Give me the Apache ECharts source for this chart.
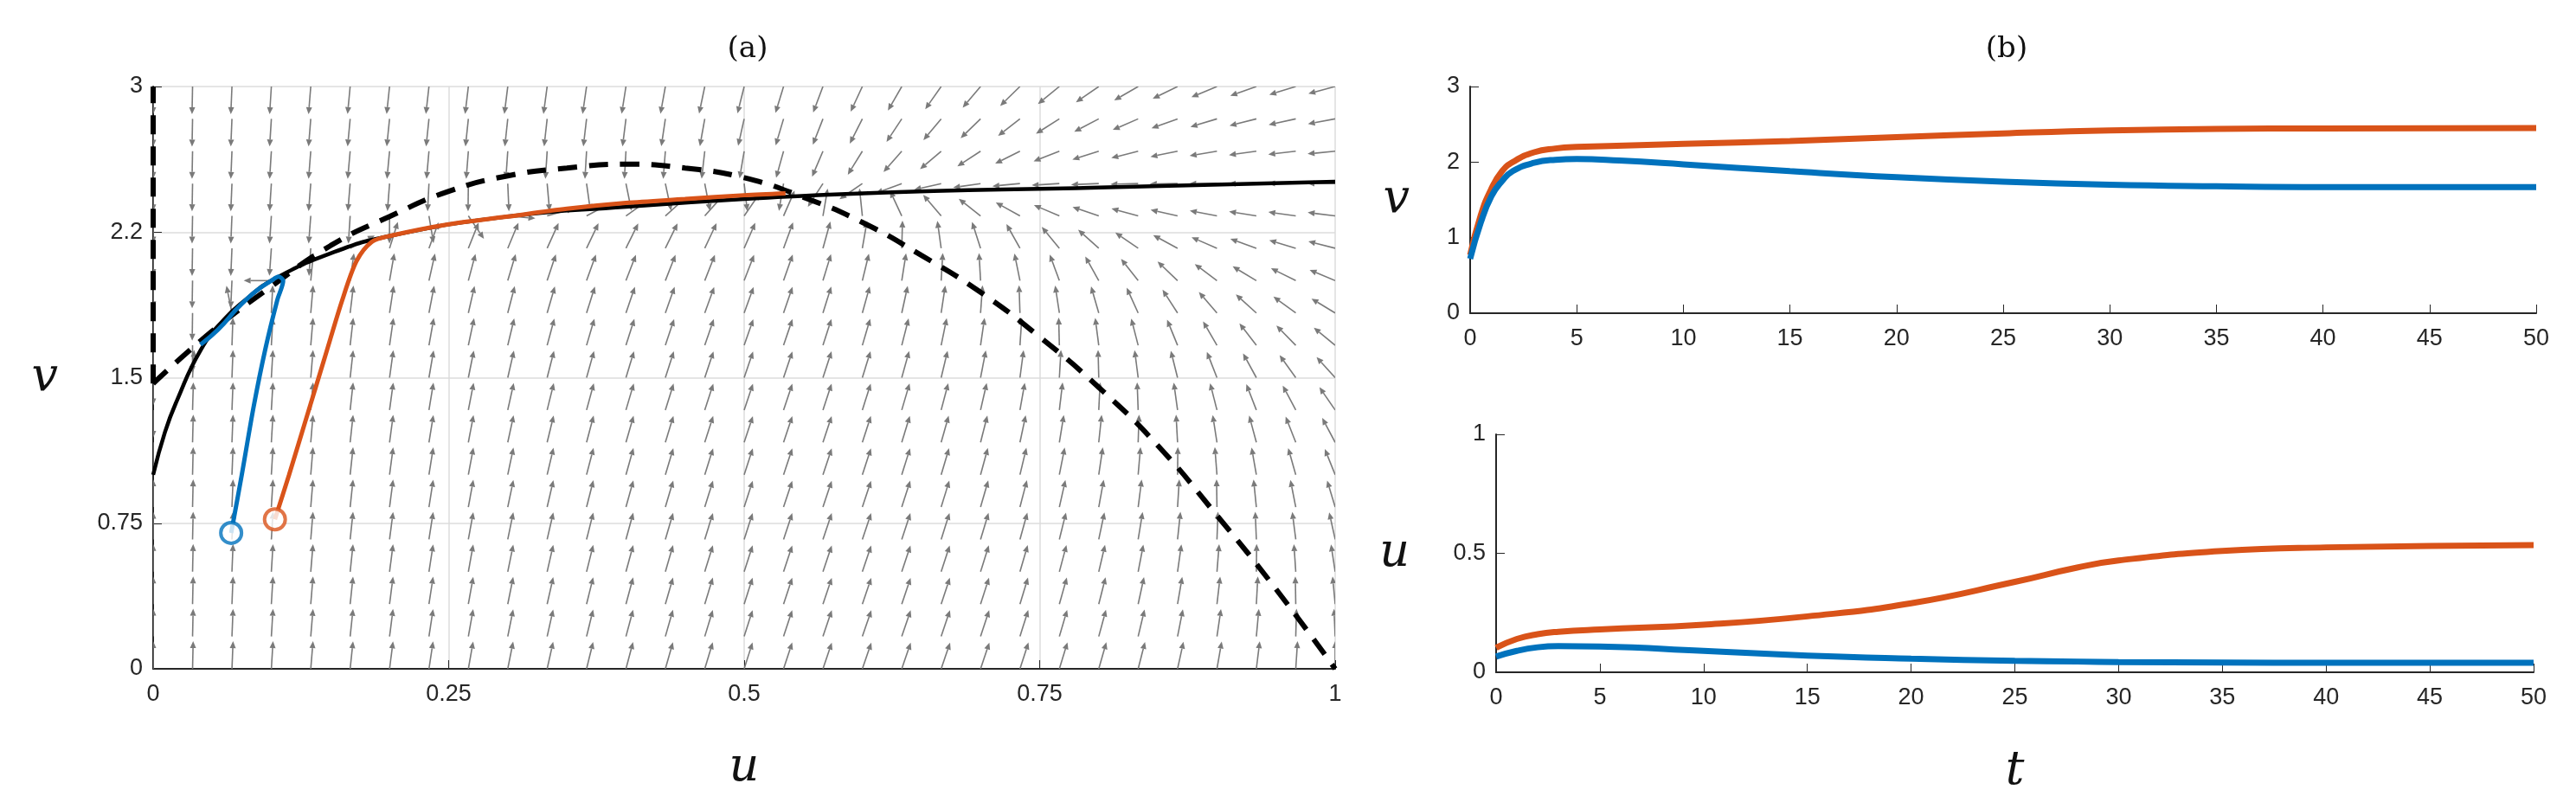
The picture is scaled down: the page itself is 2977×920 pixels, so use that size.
<!DOCTYPE html>
<html><head><meta charset="utf-8">
<script src="https://cdn.jsdelivr.net/npm/echarts@6/dist/echarts.min.js"></script>
<style>html,body{margin:0;padding:0;background:#fff}#c{width:2977px;height:920px}</style>
</head><body><div id="c"></div>
<script>
// ---- data ----
const solidU = [0,0.01,0.02,0.04,0.06,0.08,0.1,0.15,0.2,0.3,0.4,0.5,0.6,0.8,1];
const solidV = [1,1.22,1.38,1.64,1.8,1.91,2.0,2.14,2.23,2.33,2.38,2.42,2.45,2.48,2.51];
const dashU = [0,0.05,0.1,0.15,0.2,0.25,0.3,0.35,0.4,0.45,0.5,0.55,0.6,0.65,0.7,0.75,0.8,0.85,0.9,0.95,1];
const dashV = [1.47,1.74,1.97,2.18,2.33,2.46,2.54,2.58,2.6,2.58,2.53,2.43,2.3,2.13,1.94,1.71,1.45,1.15,0.79,0.41,0];
const axisDashU = [0,0];
const axisDashV = [1.47,3];
const blueU = [0.066,0.075,0.085,0.095,0.105,0.11,0.106,0.1,0.09,0.08,0.07,0.06,0.05,0.04];
const blueV = [0.70,1.0,1.35,1.65,1.9,2.0,2.02,2.0,1.96,1.91,1.85,1.78,1.72,1.67];
const orangeU = [0.103,0.115,0.13,0.145,0.16,0.172,0.185,0.2,0.25,0.3,0.35,0.4,0.45,0.5,0.535];
const orangeV = [0.77,1.0,1.3,1.6,1.9,2.1,2.2,2.23,2.29,2.33,2.37,2.4,2.42,2.44,2.45];
const tBlue = [0,0.5,1,1.5,2,3,4,5,7,10,15,20,25,30,35,40,50];
const vBlueT = [0.72,1.2,1.55,1.75,1.88,1.99,2.03,2.04,2.02,1.97,1.88,1.8,1.74,1.7,1.68,1.67,1.67];
const tOrange = [0,0.5,1,1.5,2,3,4,5,10,15,20,25,30,35,40,50];
const vOrangeT = [0.77,1.3,1.65,1.88,2.0,2.13,2.18,2.2,2.24,2.28,2.33,2.38,2.42,2.44,2.445,2.45];
const tU = [0,1,2,3,5,10,15,20,25,28,30,35,40,50];
const uBlueT = [0.066,0.09,0.105,0.11,0.108,0.09,0.07,0.057,0.048,0.045,0.043,0.041,0.04,0.04];
const uOrangeT = [0.103,0.14,0.16,0.17,0.18,0.2,0.235,0.29,0.38,0.44,0.47,0.51,0.525,0.535];
const quiverU = Array.from({length:31},(_,i)=>i/30);
const quiverV = Array.from({length:19},(_,i)=>i/6);
const xTicksA = [0,0.25,0.5,0.75,1];
const yTicksA = ['0','0.75','1.5','2.2','3'];

const BLUE='#0072BD', ORANGE='#D95319';
function interp(xs,ys,x){
  if(x<=xs[0])return ys[0];
  for(let i=1;i<xs.length;i++) if(x<=xs[i]){const t=(x-xs[i-1])/(xs[i]-xs[i-1]);return ys[i-1]+t*(ys[i]-ys[i-1]);}
  return ys[ys.length-1];
}
const zip=(a,b)=>a.map((x,i)=>[x,b[i]]);
// field directions derived from the two nullclines read above
const quiverData=[];
quiverU.forEach(u=>quiverV.forEach(v=>{
  const du=0.1*u*(interp(dashU,dashV,u)-v);
  const dv=interp(solidU,solidV,u)-v;
  quiverData.push([u,v,du,dv]);
}));

const tickFont={fontFamily:'Liberation Sans Narrow, Liberation Sans, sans-serif',fontSize:27,color:'#262626'};
const nameFont={fontFamily:'DejaVu Serif, serif',fontStyle:'italic',fontSize:54,color:'#111'};
const axLine={lineStyle:{color:'#262626',width:2}};

const chart=echarts.init(document.getElementById('c'));
chart.setOption({
  animation:false,
  title:[
    {text:'(a)',left:859,top:35,textAlign:'center',textStyle:{fontFamily:'DejaVu Serif, serif',fontWeight:'normal',fontSize:34,color:'#111'}},
    {text:'(b)',left:2314,top:35,textAlign:'center',textStyle:{fontFamily:'DejaVu Serif, serif',fontWeight:'normal',fontSize:34,color:'#111'}}
  ],
  grid:[
    {left:177,right:1434,top:100,bottom:134},
    {left:1699,right:46,top:100,bottom:558},
    {left:1729,right:49,top:502,bottom:136}
  ],
  xAxis:[
    {gridIndex:0,type:'value',min:0,max:1,interval:0.25,axisLine:axLine,axisTick:{inside:true,length:10,lineStyle:{color:'#262626'}},
     axisLabel:Object.assign({margin:16,formatter:v=>String(v)},tickFont),splitLine:{show:true,lineStyle:{color:'#dcdcdc',width:1.5}},
     name:'u',nameLocation:'middle',nameGap:88,nameTextStyle:nameFont},
    {gridIndex:1,type:'value',min:0,max:50,interval:5,axisLine:axLine,axisTick:{inside:true,length:10,lineStyle:{color:'#262626'}},
     axisLabel:Object.assign({margin:16},tickFont),splitLine:{show:false}},
    {gridIndex:2,type:'value',min:0,max:50,interval:5,axisLine:axLine,axisTick:{inside:true,length:10,lineStyle:{color:'#262626'}},
     axisLabel:Object.assign({margin:16},tickFont),splitLine:{show:false},
     name:'t',nameLocation:'middle',nameGap:88,nameTextStyle:nameFont}
  ],
  yAxis:[
    {gridIndex:0,type:'value',min:0,max:3,interval:0.75,axisLine:Object.assign({show:true},axLine),axisTick:{show:true,inside:true,length:10,lineStyle:{color:'#262626'}},
     axisLabel:Object.assign({margin:12,formatter:(v)=>yTicksA[Math.round(v/0.75)]},tickFont),splitLine:{show:true,lineStyle:{color:'#dcdcdc',width:1.5}},
     name:'v',nameLocation:'middle',nameGap:110,nameRotate:0,nameTextStyle:nameFont},
    {gridIndex:1,type:'value',min:0,max:3,interval:1,axisLine:Object.assign({show:true},axLine),axisTick:{show:true,inside:true,length:10,lineStyle:{color:'#262626'}},
     axisLabel:Object.assign({margin:12},tickFont),splitLine:{show:false},
     name:'v',nameLocation:'middle',nameGap:70,nameRotate:0,nameTextStyle:nameFont},
    {gridIndex:2,type:'value',min:0,max:1,interval:0.5,axisLine:Object.assign({show:true},axLine),axisTick:{show:true,inside:true,length:10,lineStyle:{color:'#262626'}},
     axisLabel:Object.assign({margin:12},tickFont),splitLine:{show:false},
     name:'u',nameLocation:'middle',nameGap:100,nameRotate:0,nameTextStyle:nameFont}
  ],
  series:[
    {type:'custom',xAxisIndex:0,yAxisIndex:0,clip:true,silent:true,data:quiverData,
     renderItem:(params,api)=>{
       const p=api.coord([api.value(0),api.value(1)]);
       const p2=api.coord([api.value(0)+api.value(2),api.value(1)+api.value(3)]);
       let dx=p2[0]-p[0],dy=p2[1]-p[1];const L=Math.hypot(dx,dy)||1;dx/=L;dy/=L;
       const len=32;const ex=p[0]+dx*len,ey=p[1]+dy*len;
       const h=8,w=3.5;
       const bx=ex-dx*h,by=ey-dy*h;
       return {type:'group',children:[
         {type:'line',shape:{x1:p[0],y1:p[1],x2:bx,y2:by},style:{stroke:'#7a7a7a',lineWidth:1.6}},
         {type:'polygon',shape:{points:[[ex,ey],[bx-dy*w,by+dx*w],[bx+dy*w,by-dx*w]]},style:{fill:'#7a7a7a'}}
       ]};
     }},
    {type:'line',xAxisIndex:0,yAxisIndex:0,data:zip(solidU,solidV),smooth:true,showSymbol:false,lineStyle:{color:'#000',width:4.5},z:3},
    {type:'line',xAxisIndex:0,yAxisIndex:0,data:zip(dashU,dashV),smooth:true,showSymbol:false,lineStyle:{color:'#000',width:6,type:[22,14]},z:3},
    {type:'line',xAxisIndex:0,yAxisIndex:0,data:zip(axisDashU,axisDashV),showSymbol:false,lineStyle:{color:'#000',width:6,type:[22,14]},z:3},
    {type:'line',xAxisIndex:0,yAxisIndex:0,data:zip(blueU,blueV),smooth:0.3,showSymbol:false,lineStyle:{color:BLUE,width:5},z:4},
    {type:'line',xAxisIndex:0,yAxisIndex:0,data:zip(orangeU,orangeV),smooth:0.3,showSymbol:false,lineStyle:{color:ORANGE,width:5},z:4},
    {type:'scatter',xAxisIndex:0,yAxisIndex:0,data:[[blueU[0],blueV[0]]],symbol:'circle',symbolSize:24,itemStyle:{color:'#fff',borderColor:BLUE,borderWidth:4},z:5},
    {type:'scatter',xAxisIndex:0,yAxisIndex:0,data:[[orangeU[0],orangeV[0]]],symbol:'circle',symbolSize:24,itemStyle:{color:'#fff',borderColor:ORANGE,borderWidth:4},z:5},
    {type:'line',xAxisIndex:1,yAxisIndex:1,data:zip(tOrange,vOrangeT),smooth:true,showSymbol:false,lineStyle:{color:ORANGE,width:7}},
    {type:'line',xAxisIndex:1,yAxisIndex:1,data:zip(tBlue,vBlueT),smooth:true,showSymbol:false,lineStyle:{color:BLUE,width:7}},
    {type:'line',xAxisIndex:2,yAxisIndex:2,data:zip(tU,uOrangeT),smooth:true,showSymbol:false,lineStyle:{color:ORANGE,width:7}},
    {type:'line',xAxisIndex:2,yAxisIndex:2,data:zip(tU,uBlueT),smooth:true,showSymbol:false,lineStyle:{color:BLUE,width:7}}
  ]
});
</script></body></html>
